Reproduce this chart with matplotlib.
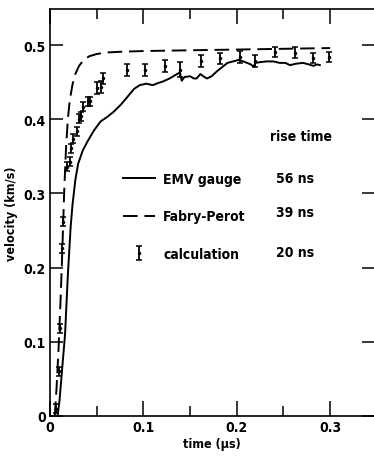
import matplotlib
matplotlib.use("Agg")
import matplotlib.pyplot as plt
from matplotlib.ticker import MultipleLocator

plt.rcParams['font.family'] = ['DejaVu Sans']
plt.rcParams['font.stretch'] = 'condensed'
plt.rcParams['font.weight'] = 'bold'
plt.rcParams['axes.labelweight'] = 'bold'

# EMV gauge (solid)
emv_t = [0.008, 0.010, 0.012, 0.014, 0.016, 0.019, 0.022, 0.024, 0.027, 0.030, 0.035,
         0.040, 0.047, 0.054, 0.061, 0.068, 0.076, 0.084, 0.090, 0.096, 0.103, 0.110,
         0.116, 0.121, 0.128, 0.136, 0.139, 0.141, 0.144, 0.150, 0.154, 0.157, 0.161,
         0.164, 0.168, 0.173, 0.179, 0.185, 0.190, 0.196, 0.202, 0.207, 0.211, 0.215,
         0.218, 0.220, 0.225, 0.232, 0.239, 0.246, 0.252, 0.257, 0.264, 0.271, 0.277,
         0.282, 0.286, 0.289]
emv_v = [0.000, 0.020, 0.050, 0.080, 0.110, 0.190, 0.255, 0.285, 0.318, 0.340, 0.358,
         0.370, 0.385, 0.397, 0.403, 0.410, 0.420, 0.432, 0.441, 0.446, 0.448, 0.446,
         0.449, 0.451, 0.455, 0.461, 0.463, 0.452, 0.457, 0.458, 0.455, 0.455, 0.461,
         0.458, 0.455, 0.458, 0.465, 0.471, 0.476, 0.478, 0.480, 0.478, 0.476, 0.474,
         0.471, 0.476, 0.477, 0.478, 0.478, 0.476, 0.476, 0.473, 0.475, 0.476, 0.474,
         0.472, 0.474, 0.473]

# Fabry-Perot (dashed)
fp_t = [0.005, 0.007, 0.009, 0.011, 0.013, 0.015, 0.017, 0.019, 0.021, 0.024, 0.027,
        0.031, 0.036, 0.042, 0.050, 0.060, 0.075, 0.100, 0.150, 0.200, 0.250, 0.300]
fp_v = [0.000, 0.040, 0.090, 0.150, 0.220, 0.300, 0.360, 0.400, 0.425, 0.447, 0.461,
        0.472, 0.480, 0.485, 0.488, 0.490, 0.491, 0.492, 0.493, 0.494, 0.495, 0.496]

# calculation (error bars)
calc_t = [0.006, 0.009, 0.011, 0.013, 0.014, 0.018, 0.021, 0.022, 0.025, 0.029, 0.031,
          0.033, 0.035, 0.041, 0.043, 0.050, 0.054, 0.057, 0.082, 0.102, 0.123, 0.139,
          0.162, 0.182, 0.203, 0.220, 0.241, 0.262, 0.282, 0.299]
calc_v = [0.010, 0.060, 0.118, 0.226, 0.262, 0.336, 0.343, 0.361, 0.374, 0.384, 0.401,
          0.404, 0.417, 0.424, 0.424, 0.442, 0.444, 0.455, 0.466, 0.466, 0.472, 0.467,
          0.478, 0.482, 0.484, 0.478, 0.491, 0.490, 0.483, 0.484]
calc_err = [0.006, 0.006, 0.006, 0.006, 0.006, 0.006, 0.006, 0.006, 0.006, 0.006, 0.006,
            0.006, 0.006, 0.006, 0.006, 0.008, 0.008, 0.008, 0.008, 0.008, 0.008, 0.010,
            0.008, 0.008, 0.008, 0.008, 0.007, 0.007, 0.007, 0.007]

labels = ['EMV gauge', 'Fabry-Perot', 'calculation']
rise_times = ['56 ns', '39 ns', '20 ns']

fig = plt.figure(figsize=(3.74, 4.60), dpi=100)
ax = fig.add_axes([0.134, 0.0935, 0.866, 0.8845])

ax.plot(emv_t, emv_v, color='black', lw=1.4, label=labels[0])
ax.plot(fp_t, fp_v, color='black', lw=1.4, dashes=(7.5, 3.5), label=labels[1])
ax.errorbar(calc_t, calc_v, yerr=calc_err, fmt='.', color='black', ms=3,
            elinewidth=1.3, capsize=2, capthick=1.1, label=labels[2])

ax.set_xlim(0, 0.347)
ax.set_ylim(0, 0.5485)

ax.set_xticks([0, 0.1, 0.2, 0.3])
ax.set_xticklabels(['0', '0.1', '0.2', '0.3'])
ax.xaxis.set_minor_locator(MultipleLocator(0.05))
ax.set_yticks([0, 0.1, 0.2, 0.3, 0.4, 0.5])
ax.set_yticklabels(['0', '0.1', '0.2', '0.3', '0.4', '0.5'])

ax.tick_params(axis='both', which='both', direction='in', top=True, right=True,
               labelsize=10, width=1.1, pad=3)
ax.tick_params(axis='x', which='major', length=11)
ax.tick_params(axis='x', which='minor', length=7)
ax.tick_params(axis='y', which='major', length=9)
ax.spines['right'].set_visible(False)
for s in ['left', 'bottom', 'top']:
    ax.spines[s].set_linewidth(1.2)

ax.set_xlabel('time (µs)', fontsize=9, labelpad=2)
ax.set_ylabel('velocity (km/s)', fontsize=9, labelpad=4)

ax.legend(loc='upper left', bbox_to_anchor=(0.225, 0.600), frameon=False,
          fontsize=10, handlelength=2.3, handletextpad=0.6, labelspacing=1.7,
          borderaxespad=0, borderpad=0)

ax.text(0.679, 0.688, 'rise time', transform=ax.transAxes, fontsize=10, va='center')
rise_y = [0.585, 0.501, 0.403]
for y, rt in zip(rise_y, rise_times):
    ax.text(0.698, y, rt, transform=ax.transAxes, fontsize=10, va='center')

fig.savefig('out.png', dpi=100)
